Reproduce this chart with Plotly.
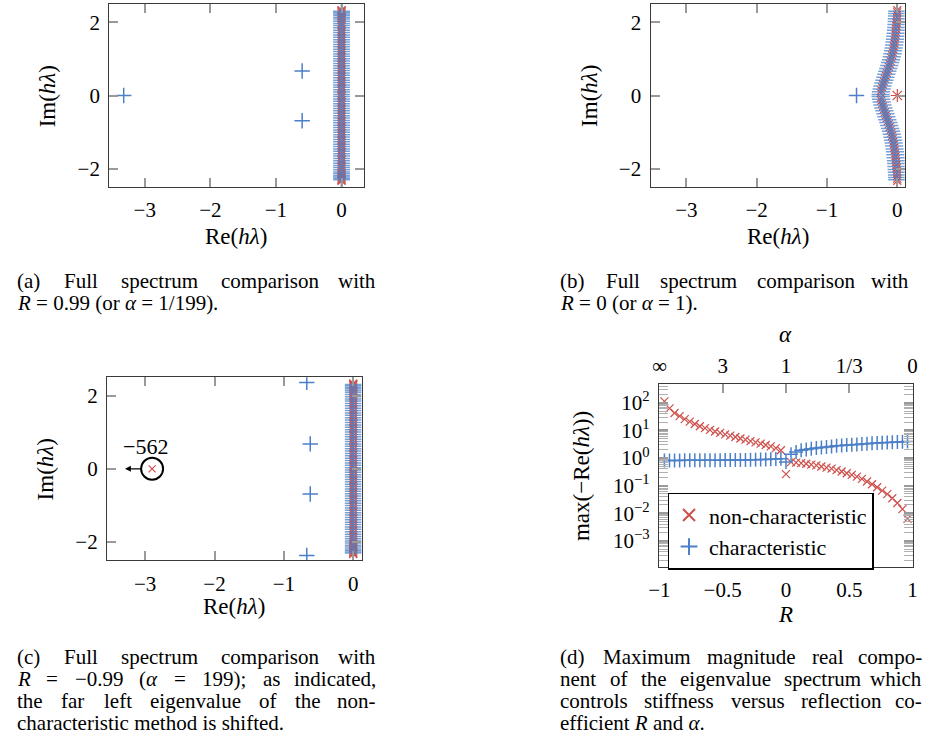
import re
import plotly.graph_objects as go

W, H = 932, 740
FONT = "Liberation Serif"
RED = "#cf4f4b"
BLUE = "#4b80c8"
FRAME = "#3a3a3a"
TICK = "#9a9a9a"

# ---------------- data ----------------
# eigenvalue clusters on the imaginary axis (panels a and c)
cluster_char_im = [
    -2.30, -2.27, -2.23, -2.19, -2.14, -2.09, -2.03, -1.97, -1.91, -1.85, -1.785, -1.72, -1.655,
    -1.59, -1.525, -1.46, -1.395, -1.33, -1.265, -1.20, -1.135, -1.07, -1.005, -0.94, -0.875,
    -0.81, -0.745, -0.68, -0.615, -0.55, -0.485, -0.42, -0.355, -0.29, -0.225, -0.16, -0.095, -0.03,
    0.03, 0.095, 0.16, 0.225, 0.29, 0.355, 0.42, 0.485, 0.55, 0.615, 0.68, 0.745, 0.81, 0.875,
    0.94, 1.005, 1.07, 1.135, 1.20, 1.265, 1.33, 1.395, 1.46, 1.525, 1.59, 1.655, 1.72, 1.785,
    1.85, 1.91, 1.97, 2.03, 2.09, 2.14, 2.19, 2.23, 2.27, 2.30]
cluster_nonchar_im = [
    -2.33, -2.31, -2.285, -2.25, -2.21, -2.165, -2.115, -2.06, -2.00, -1.94, -1.88, -1.815, -1.75,
    -1.685, -1.62, -1.555, -1.49, -1.425, -1.36, -1.295, -1.23, -1.165, -1.10, -1.035, -0.97,
    -0.905, -0.84, -0.775, -0.71, -0.645, -0.58, -0.515, -0.45, -0.385, -0.32, -0.255, -0.19,
    -0.125, -0.06, 0.0, 0.06, 0.125, 0.19, 0.255, 0.32, 0.385, 0.45, 0.515, 0.58, 0.645, 0.71,
    0.775, 0.84, 0.905, 0.97, 1.035, 1.10, 1.165, 1.23, 1.295, 1.36, 1.425, 1.49, 1.555, 1.62,
    1.685, 1.75, 1.815, 1.88, 1.94, 2.00, 2.06, 2.115, 2.165, 2.21, 2.25, 2.285, 2.31, 2.33]
cluster_char_re = [0.0 for _ in cluster_char_im]
cluster_nonchar_re = [0.0 for _ in cluster_nonchar_im]

# (a) R = 0.99 : isolated characteristic eigenvalues
a_char_re = [-3.32, -0.60, -0.60]
a_char_im = [0.0, 0.67, -0.69]

# (b) R = 0 : bent clusters
b_char_im = [
    -2.30, -2.24, -2.17, -2.10, -2.02, -1.94, -1.86, -1.78, -1.70, -1.62, -1.54, -1.46, -1.38,
    -1.30, -1.22, -1.14, -1.06, -0.98, -0.90, -0.82, -0.74, -0.66, -0.58, -0.50, -0.42, -0.34,
    -0.26, -0.18, -0.10, -0.03, 0.03, 0.10, 0.18, 0.26, 0.34, 0.42, 0.50, 0.58, 0.66, 0.74, 0.82,
    0.90, 0.98, 1.06, 1.14, 1.22, 1.30, 1.38, 1.46, 1.54, 1.62, 1.70, 1.78, 1.86, 1.94, 2.02,
    2.10, 2.17, 2.24, 2.30]
b_char_re = [
    0.0, -0.002, -0.004, -0.006, -0.009, -0.012, -0.015, -0.019, -0.023, -0.028, -0.033, -0.039,
    -0.045, -0.052, -0.060, -0.069, -0.079, -0.090, -0.102, -0.115, -0.128, -0.142, -0.156,
    -0.170, -0.184, -0.198, -0.211, -0.223, -0.232, -0.237, -0.237, -0.232, -0.223, -0.211,
    -0.198, -0.184, -0.170, -0.156, -0.142, -0.128, -0.115, -0.102, -0.090, -0.079, -0.069,
    -0.060, -0.052, -0.045, -0.039, -0.033, -0.028, -0.023, -0.019, -0.015, -0.012, -0.009,
    -0.006, -0.004, -0.002, 0.0]
b_nonchar_im = [
    -2.33, -2.27, -2.205, -2.135, -2.06, -1.98, -1.90, -1.82, -1.74, -1.66, -1.58, -1.50, -1.42,
    -1.34, -1.26, -1.18, -1.10, -1.02, -0.94, -0.86, -0.78, -0.70, -0.62, -0.54, -0.46, -0.38,
    -0.30, -0.22, -0.14, -0.065, 0.065, 0.14, 0.22, 0.30, 0.38, 0.46, 0.54, 0.62, 0.70, 0.78,
    0.86, 0.94, 1.02, 1.10, 1.18, 1.26, 1.34, 1.42, 1.50, 1.58, 1.66, 1.74, 1.82, 1.90, 1.98,
    2.06, 2.135, 2.205, 2.27, 2.33]
b_nonchar_re = [
    0.0, -0.001, -0.003, -0.005, -0.008, -0.010, -0.013, -0.017, -0.021, -0.025, -0.030, -0.036,
    -0.042, -0.048, -0.056, -0.064, -0.074, -0.084, -0.096, -0.108, -0.121, -0.135, -0.149,
    -0.163, -0.177, -0.191, -0.205, -0.217, -0.228, -0.235, -0.235, -0.228, -0.217, -0.205,
    -0.191, -0.177, -0.163, -0.149, -0.135, -0.121, -0.108, -0.096, -0.084, -0.074, -0.064,
    -0.056, -0.048, -0.042, -0.036, -0.030, -0.025, -0.021, -0.017, -0.013, -0.010, -0.008,
    -0.005, -0.003, -0.001, 0.0]
b_char_iso_re = [-0.58]
b_char_iso_im = [0.0]
b_zero_re = [0.0]
b_zero_im = [0.0]

# (c) R = -0.99
c_char_re = [-0.67, -0.62, -0.62, -0.67]
c_char_im = [2.36, 0.68, -0.69, -2.37]
c_shift_re = [-2.90]      # drawn position of the shifted eigenvalue
c_shift_im = [0.0]
c_shift_label = "−562"

# (d) max(-Re(h lambda)) versus R
R_vals = [-0.96, -0.92, -0.88, -0.84, -0.80, -0.76, -0.72, -0.68, -0.64, -0.60, -0.56, -0.52,
          -0.48, -0.44, -0.40, -0.36, -0.32, -0.28, -0.24, -0.20, -0.16, -0.12, -0.08, -0.04,
          0.0,
          0.04, 0.08, 0.12, 0.16, 0.20, 0.24, 0.28, 0.32, 0.36, 0.40, 0.44, 0.48, 0.52, 0.56,
          0.60, 0.64, 0.68, 0.72, 0.76, 0.80, 0.84, 0.88, 0.92, 0.96]
nonchar_max = [112, 63, 42.7, 33, 25.7, 20.9, 17, 14.1, 12, 10.5, 9.1, 8.1,
               7.2, 6.5, 5.75, 5.1, 4.6, 4.1, 3.7, 3.3, 2.95, 2.63, 2.29, 1.9,
               0.26,
               0.71, 0.68, 0.65, 0.62, 0.575, 0.54, 0.49, 0.447, 0.41, 0.363, 0.324, 0.28,
               0.245, 0.21, 0.174, 0.141, 0.112, 0.087, 0.066, 0.049, 0.0347, 0.0234, 0.0141,
               0.0063]
char_max = [0.81, 0.81, 0.81, 0.81, 0.82, 0.82, 0.82, 0.82, 0.82, 0.83, 0.83, 0.83,
            0.84, 0.84, 0.84, 0.85, 0.85, 0.86, 0.87, 0.88, 0.89, 0.90, 0.92, 0.94,
            0.71,
            1.38, 1.66, 1.90, 2.02, 2.14, 2.29, 2.40, 2.51, 2.63, 2.75, 2.82, 2.95,
            3.02, 3.09, 3.24, 3.31, 3.39, 3.47, 3.55, 3.63, 3.72, 3.80, 3.89, 3.98]

# tick labels
spec_x_ticks = [-3, -2, -1, 0]
spec_y_ticks = [-2, 0, 2]
R_ticks = [-1, -0.5, 0, 0.5, 1]
R_ticktext = ["−1", "−0.5", "0", "0.5", "1"]
alpha_ticktext = ["∞", "3", "1", "1/3", "0"]
log_ticks = [1e-3, 1e-2, 1e-1, 1, 10, 100]
log_ticktext = ["10<sup>−3</sup>", "10<sup>−2</sup>", "10<sup>−1</sup>",
                "10<sup>0</sup>", "10<sup>1</sup>", "10<sup>2</sup>"]

# ---------------- figure ----------------
fig = go.Figure()


def marks(x, y, xa, ya, sym, color, size, width, opacity=1.0, name=None, show=False):
    fig.add_trace(go.Scatter(
        x=x, y=y, xaxis=xa, yaxis=ya, mode="markers", name=name, showlegend=show,
        opacity=opacity, hoverinfo="skip",
        marker=dict(symbol=sym, size=size, color=color, line=dict(color=color, width=width))))


# (a)
marks(cluster_nonchar_re, cluster_nonchar_im, "x", "y", "x-thin", RED, 8, 1.2)
marks(cluster_char_re, cluster_char_im, "x", "y", "cross-thin", BLUE, 12, 1.5, 0.75)
marks(a_char_re, a_char_im, "x", "y", "cross-thin", BLUE, 11, 1.5)
# (b)
marks(b_nonchar_re, b_nonchar_im, "x2", "y2", "x-thin", RED, 8, 1.2)
marks(b_char_re, b_char_im, "x2", "y2", "cross-thin", BLUE, 13, 1.5, 0.75)
marks(b_char_iso_re, b_char_iso_im, "x2", "y2", "cross-thin", BLUE, 11, 1.5)
marks(b_zero_re, b_zero_im, "x2", "y2", "asterisk-open", RED, 11, 1.2)
# (c)
marks(cluster_nonchar_re, cluster_nonchar_im, "x3", "y3", "x-thin", RED, 8, 1.2)
marks(cluster_char_re, cluster_char_im, "x3", "y3", "cross-thin", BLUE, 12, 1.5, 0.75)
marks(c_char_re, c_char_im, "x3", "y3", "cross-thin", BLUE, 11, 1.5)
marks(c_shift_re, c_shift_im, "x3", "y3", "x-thin", RED, 7, 1.2)
# (d)
marks(R_vals, nonchar_max, "x4", "y4", "x-thin", RED, 8, 1.2, name="non-characteristic", show=True)
marks(R_vals, char_max, "x4", "y4", "cross-thin", BLUE, 10, 1.5, name="characteristic", show=True)
# invisible companion so that the top (alpha) axis is drawn
fig.add_trace(go.Scatter(x=R_vals, y=char_max, xaxis="x5", yaxis="y4", mode="markers",
                         showlegend=False, hoverinfo="skip", marker=dict(opacity=0)))


def px_x(p):
    return p / W


def px_y(p):
    return 1 - p / H


tickfont = dict(family=FONT, size=21, color="black")
base = dict(showline=True, linecolor=FRAME, linewidth=1.3, mirror="allticks", ticks="inside",
            ticklen=9, tickcolor=TICK, tickwidth=1.5, showgrid=False, zeroline=False,
            tickfont=tickfont, ticklabelstandoff=4)


def ax(dom, rng, **kw):
    d = dict(base)
    d.update(domain=dom, range=rng)
    d.update(kw)
    return d


fig.update_layout(
    xaxis=ax([px_x(100), px_x(359)], [-3.54, 0.34], anchor="y", tickmode="array",
             tickvals=spec_x_ticks),
    yaxis=ax([px_y(187), px_y(4)], [-2.5, 2.5], anchor="x", tickmode="array",
             tickvals=spec_y_ticks),
    xaxis2=ax([px_x(650.7), px_x(909.3)], [-3.51, 0.105], anchor="y2", tickmode="array",
              tickvals=spec_x_ticks),
    yaxis2=ax([px_y(187), px_y(4)], [-2.5, 2.5], anchor="x2", tickmode="array",
              tickvals=spec_y_ticks),
    xaxis3=ax([px_x(97.7), px_x(356.7)], [-3.55, 0.12], anchor="y3", tickmode="array",
              tickvals=spec_x_ticks),
    yaxis3=ax([px_y(560.3), px_y(377.3)], [-2.5, 2.5], anchor="x3", tickmode="array",
              tickvals=spec_y_ticks),
    xaxis4=ax([px_x(659.3), px_x(917.7)], [-1.003, 1.003], anchor="y4", tickmode="array",
              tickvals=R_ticks, ticktext=R_ticktext),
    xaxis5=dict(overlaying="x4", side="top", anchor="y4", range=[-1.003, 1.003],
                domain=[px_x(659.3), px_x(917.7)],
                tickmode="array", tickvals=R_ticks, ticktext=alpha_ticktext, ticks="inside",
                ticklen=9, tickcolor=TICK, tickwidth=1.5, showline=False, showgrid=False,
                zeroline=False, tickfont=tickfont, ticklabelstandoff=6),
    yaxis4=ax([px_y(567), px_y(384.3)], [-3.95, 2.67], anchor="x4", type="log",
              tickmode="array", tickvals=log_ticks, ticktext=log_ticktext,
              minor=dict(ticks="inside", ticklen=5, tickcolor="#b0b0b0", tickwidth=1,
                         dtick="D1", showgrid=False)),
    width=W, height=H, autosize=False,
    margin=dict(l=0, r=0, t=0, b=0),
    plot_bgcolor="white", paper_bgcolor="white",
    font=dict(family=FONT, color="black"),
    legend=dict(x=px_x(668), y=px_y(492.7), xanchor="left", yanchor="top",
                bordercolor="black", borderwidth=1.5, bgcolor="white",
                font=dict(family=FONT, size=22, color="black"), tracegroupgap=0,
                itemsizing="constant", itemwidth=30),
)

# circle + arrow + label for the shifted eigenvalue in (c)
fig.add_shape(type="circle", xref="x3", yref="y3", xsizemode="pixel", ysizemode="pixel",
              xanchor=c_shift_re[0], yanchor=c_shift_im[0], x0=-11, x1=11, y0=-11, y1=11,
              line=dict(color="black", width=2))
fig.add_annotation(xref="x3", yref="y3", x=-3.29, y=c_shift_im[0], ax=18, ay=0,
                   axref="pixel", ayref="pixel", text="", showarrow=True, arrowhead=2,
                   arrowsize=0.9, arrowwidth=1.3, arrowcolor="black")
fig.add_annotation(xref="x3", yref="y3", x=-3.0, y=0.62, text=c_shift_label,
                   showarrow=False, font=dict(family=FONT, size=22, color="black"))

# axis titles
TF = dict(family=FONT, size=23, color="black")


def label(text, x, y, angle=0):
    fig.add_annotation(xref="paper", yref="paper", x=px_x(x), y=px_y(y), text=text,
                       showarrow=False, textangle=angle, font=TF,
                       xanchor="center", yanchor="middle")


RE = "Re(<i>hλ</i>)"
IM = "Im(<i>hλ</i>)"
label(RE, 229, 236)
label(IM, 37, 96, -90)
label(RE, 780, 236)
label(IM, 588, 96, -90)
label(RE, 227, 606)
label(IM, 35, 469, -90)
label("<i>R</i>", 788, 614)
label("max(−Re(<i>hλ</i>))", 580, 476, -90)
label("<i>α</i>", 788, 335)

# captions: justified lines (word gaps stretched), last lines left aligned
CFS = 21
CF = dict(family=FONT, size=CFS, color="black")
GLYPH_W = {  # approximate Times-like advance widths (em/1000)
    "a": 444, "b": 500, "c": 444, "d": 500, "e": 444, "f": 333, "g": 500, "h": 500, "i": 278,
    "j": 278, "k": 500, "l": 278, "m": 778, "n": 500, "o": 500, "p": 500, "q": 500, "r": 333,
    "s": 389, "t": 278, "u": 500, "v": 500, "w": 722, "x": 500, "y": 500, "z": 444,
    "F": 556, "M": 889, "R": 611, "(": 333, ")": 333, ".": 250, ",": 250, ";": 278,
    "=": 564, "−": 564, "-": 333, "/": 278, "α": 520, " ": 250}


def text_w(t):
    plain = re.sub(r"<[^>]+>", "", t)
    return sum(GLYPH_W.get(ch, 500) for ch in plain) * CFS / 1000.0


def put(t, x, y, anchor):
    fig.add_annotation(xref="paper", yref="paper", x=px_x(x), y=px_y(y), text=t,
                       showarrow=False, font=CF, xanchor=anchor, yanchor="middle",
                       borderpad=0)


def justified(text, xl, xr, y):
    ws = text.split(" ")
    widths = [text_w(w) for w in ws]
    gap = (xr - xl - sum(widths)) / (len(ws) - 1)
    x = xl
    for i, w in enumerate(ws):
        if i == len(ws) - 1:
            put(w, xr, y, "right")
        else:
            put(w, x, y, "left")
            x += widths[i] + gap


L1, L2 = 5, 372
R1, R2 = 558, 928
justified("(a) Full spectrum comparison with", L1, L2, 281)
put("<i>R</i> = 0.99 (or <i>α</i> = 1/199).", L1, 303, "left")
justified("(b) Full spectrum comparison with", R1, 915, 281)
put("<i>R</i> = 0 (or <i>α</i> = 1).", R1, 303, "left")
justified("(c) Full spectrum comparison with", L1, L2, 657)
justified("<i>R</i> = −0.99 (<i>α</i> = 199); as indicated,", L1, L2, 679)
justified("the far left eigenvalue of the non-", L1, L2, 701)
put("characteristic method is shifted.", L1, 723, "left")
justified("(d) Maximum magnitude real compo-", R1, R2, 657)
justified("nent of the eigenvalue spectrum which", R1, R2, 679)
justified("controls stiffness versus reflection co-", R1, R2, 701)
put("efficient <i>R</i> and <i>α</i>.", R1, 723, "left")

fig.write_html("out.html", config={"displayModeBar": False},
               post_script="document.body.style.margin='0px';")
